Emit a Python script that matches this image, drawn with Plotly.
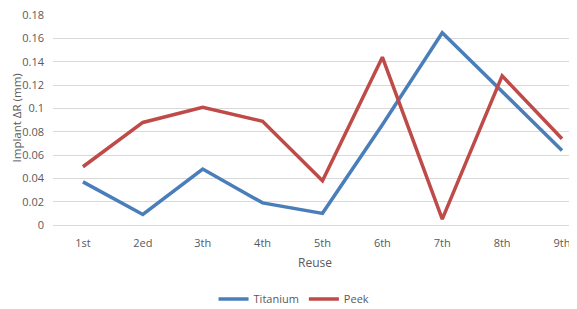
import plotly.graph_objects as go

categories = ["1st", "2ed", "3th", "4th", "5th", "6th", "7th", "8th", "9th"]
titanium = [0.037, 0.009, 0.048, 0.019, 0.010, 0.086, 0.165, 0.114, 0.064]
peek = [0.050, 0.088, 0.101, 0.089, 0.038, 0.144, 0.005, 0.128, 0.074]
y_ticks = [0, 0.02, 0.04, 0.06, 0.08, 0.1, 0.12, 0.14, 0.16, 0.18]
y_tick_labels = ["0", "0.02", "0.04", "0.06", "0.08", "0.1", "0.12", "0.14", "0.16", "0.18"]

font_family = "Open Sans, Liberation Sans, sans-serif"
gray = "#595959"

# the page body has an 8px default margin, so the figure is sized/offset to compensate
fig = go.Figure()
fig.add_trace(go.Scatter(x=list(range(len(categories))), y=titanium, mode="lines", name="Titanium",
                         line=dict(color="#4A7EBB", width=3.5)))
fig.add_trace(go.Scatter(x=list(range(len(categories))), y=peek, mode="lines", name="Peek",
                         line=dict(color="#BE4B48", width=3.5)))

fig.update_layout(
    width=569, height=301,
    margin=dict(l=45, r=0, t=7, b=84, autoexpand=False),
    paper_bgcolor="white", plot_bgcolor="white",
    font=dict(family=font_family, size=11, color=gray),
    showlegend=True,
    legend=dict(orientation="h", x=0.46, y=-0.352,
                xanchor="center", yanchor="middle", font=dict(size=11, color=gray),
                itemwidth=30, traceorder="normal"),
    xaxis=dict(
        tickmode="array", tickvals=list(range(len(categories))), ticktext=categories,
        range=[-0.5, 8.25], showgrid=False, zeroline=False, showline=False, ticks="",
        ticklabelstandoff=10,
        title=dict(text="Reuse", font=dict(size=12, color=gray), standoff=9),
        automargin=False, fixedrange=True,
    ),
    yaxis=dict(
        tickmode="array", tickvals=y_ticks, ticktext=y_tick_labels, range=[0, 0.1802],
        showgrid=True, gridcolor="#D9D9D9", gridwidth=1, zeroline=True, zerolinecolor="#D9D9D9",
        zerolinewidth=1, showline=False, ticks="", ticklabelstandoff=8,
        ticklabeloverflow="allow",
        automargin=False, fixedrange=True,
    ),
    annotations=[dict(text="Implant ΔR (mm)", textangle=-90, xref="paper", yref="paper",
                      x=-0.0695, y=0.51, xanchor="center", yanchor="middle", showarrow=False,
                      font=dict(size=11.5, color=gray))],
)

fig.write_html("out.html")
